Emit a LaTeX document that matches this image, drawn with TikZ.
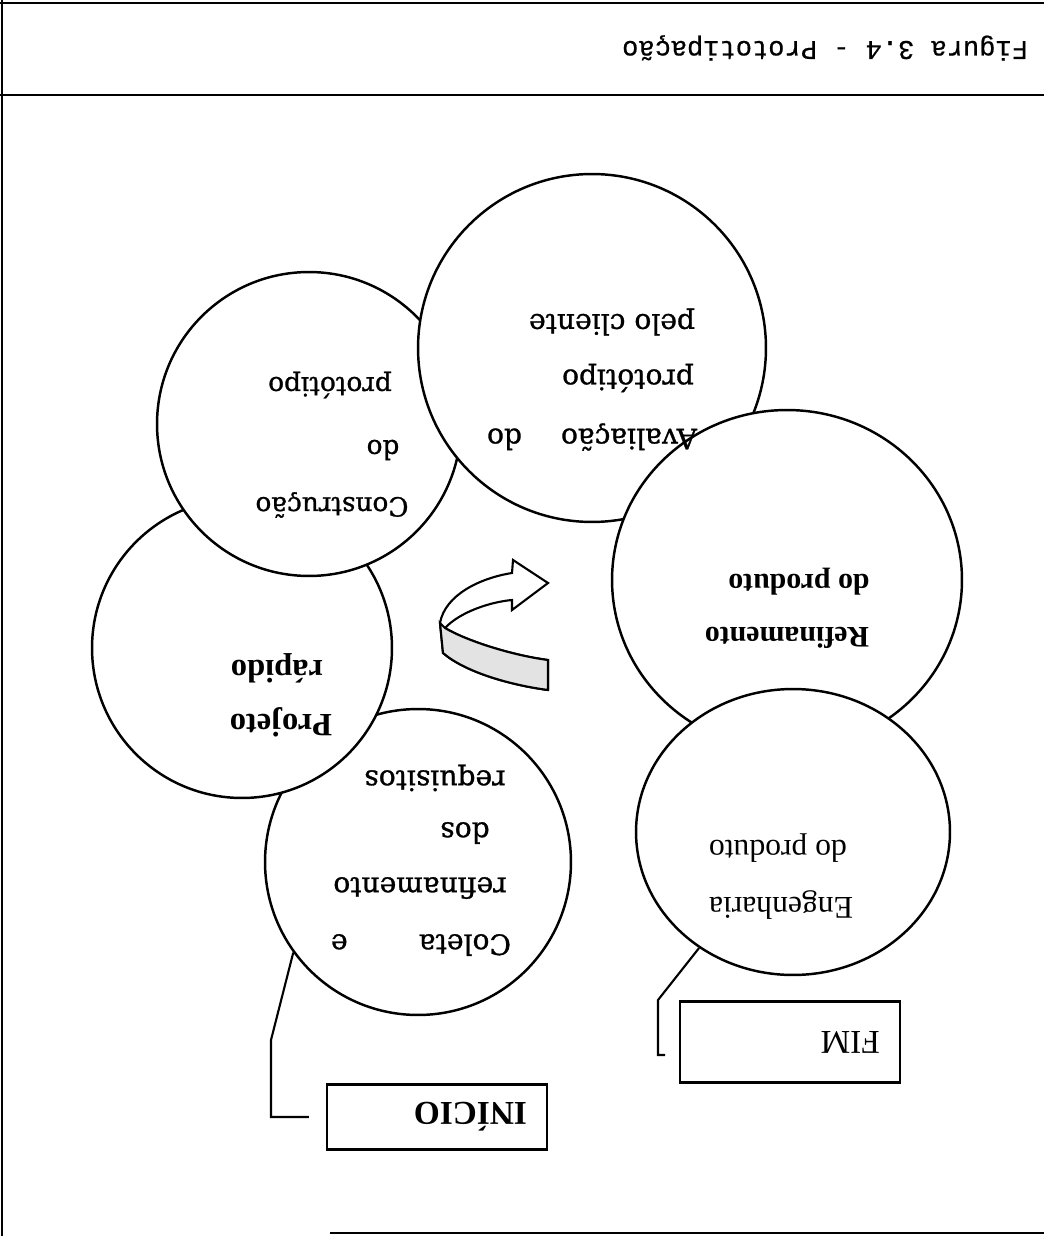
\documentclass[tikz,border=0pt]{standalone}
\usepackage{fontspec}
\setmainfont{Liberation Serif}
\setmonofont[FakeBold=0.6]{Liberation Mono}
\newfontfamily\slabfont[FakeBold=1]{DejaVu Serif}
\usetikzlibrary{shapes.geometric}

\begin{document}
\begin{tikzpicture}[
    x=0.02cm, y=-0.02cm,
    stage/.style={draw, line width=1.4pt, fill=white, ellipse, inner sep=0pt},
    boldlbl/.style={rotate=180, inner sep=0pt, font=\fontsize{17}{20}\selectfont\bfseries},
    slablbl/.style={rotate=180, inner sep=0pt, font=\slabfont\fontsize{16}{19}\selectfont},
    endbox/.style={draw, line width=1.2pt, fill=white, rotate=180, minimum width=4.4cm,
        text width=3.6cm, inner xsep=0.4cm, align=left, font=\fontsize{19}{22}\selectfont},
    link/.style={line width=1.2pt},
    frame/.style={line width=1.3pt},
]
\useasboundingbox (0,0) rectangle (1044,1236);

%----------------------------------
% Frame and title
%----------------------------------
\draw[frame] (2,0) -- (2,1236);
\draw[frame] (0,3) -- (1044,3);
\draw[frame] (0,95) -- (1044,95);
\draw[frame] (330,1233) -- (1044,1233);

\node[rotate=180, inner sep=0pt, font=\ttfamily\fontsize{15.4}{18}\selectfont] (title) at (825,48) {Figura 3.4 - Prototipação};

%----------------------------------
% Stages
%----------------------------------
\node[stage, minimum width=6.12cm, minimum height=6.12cm] (coleta) at (418,862) {};
\node[stage, minimum width=6cm, minimum height=6cm] (projeto) at (242,648) {};
\node[stage, minimum width=6.08cm, minimum height=6.08cm] (construcao) at (309,424) {};
\node[stage, minimum width=6.96cm, minimum height=6.96cm] (avaliacao) at (592,348) {};
\node[stage, minimum width=7cm, minimum height=6.8cm] (refinamento) at (787,580) {};
\node[stage, minimum width=6.28cm, minimum height=5.72cm] (engenharia) at (793,832) {};

\node[slablbl] (coletaA) at (421,945) {\makebox[3.6cm][s]{Coleta\hfill e}};
\node[slablbl] (coletaB) at (420,888) {refinamento};
\node[slablbl] (coletaC) at (465,833) {dos};
\node[slablbl] (coletaD) at (435,778) {requisitos};

\node[boldlbl, font=\fontsize{18.5}{22}\selectfont\bfseries] (projetoA) at (281,722) {Projeto};
\node[boldlbl, font=\fontsize{18.5}{22}\selectfont\bfseries] (projetoB) at (277,668) {rápido};

\node[slablbl, font=\slabfont\fontsize{15}{18}\selectfont] (construcaoA) at (332,505) {Construção};
\node[slablbl, font=\slabfont\fontsize{15}{18}\selectfont] (construcaoB) at (383,450) {do};
\node[slablbl, font=\slabfont\fontsize{15}{18}\selectfont] (construcaoC) at (330,385) {protótipo};

\node[slablbl] (avaliacaoA) at (592,437) {\makebox[4.2cm][s]{Avaliação\hfill do}};
\node[slablbl] (avaliacaoB) at (628,378) {protótipo};
\node[slablbl] (avaliacaoC) at (612,322) {pelo cliente};

\node[boldlbl] (refinamentoA) at (787,638) {Refinamento};
\node[boldlbl] (refinamentoB) at (799,582) {do produto};

\node[boldlbl, font=\fontsize{18}{21}\selectfont] (engenhariaA) at (781,905) {Engenharia};
\node[boldlbl, font=\fontsize{18}{21}\selectfont] (engenhariaB) at (778,848) {do produto};

%----------------------------------
% Curved arrow
%----------------------------------
\draw[line width=1.2pt, fill=white] (548,690) -- (548,660)
    .. controls (510,655) and (465,640) .. (445,628)
    .. controls (460,612) and (490,602) .. (512,600)
    -- (512,610) -- (548,583) -- (513,560) -- (512,573)
    .. controls (480,578) and (445,595) .. (440,623)
    -- (443,653)
    .. controls (465,672) and (510,685) .. (548,690) -- cycle;
\fill[gray!22] (548,690) -- (548,660)
    .. controls (510,655) and (465,640) .. (445,628)
    -- (440,623) -- (443,653)
    .. controls (465,672) and (510,685) .. (548,690) -- cycle;
\draw[line width=1.2pt] (548,690) -- (548,660)
    .. controls (510,655) and (465,640) .. (445,628)
    -- (440,623) -- (443,653)
    .. controls (465,672) and (510,685) .. (548,690);

%----------------------------------
% Start and end
%----------------------------------
\node[endbox, minimum height=1.3cm, font=\fontsize{19}{22}\selectfont\bfseries] (inicio) at (437,1117) {INÍCIO};
\node[endbox, minimum height=1.62cm] (fim) at (790,1042) {FIM};

\coordinate (fimtick) at (665,1055);

\draw[link, shorten >=0.34cm] (coleta.216) -- (271,1040) |- (inicio.east);
\draw[link] (engenharia.231) -- (658,1000) |- (fimtick);

\end{tikzpicture}
\end{document}
